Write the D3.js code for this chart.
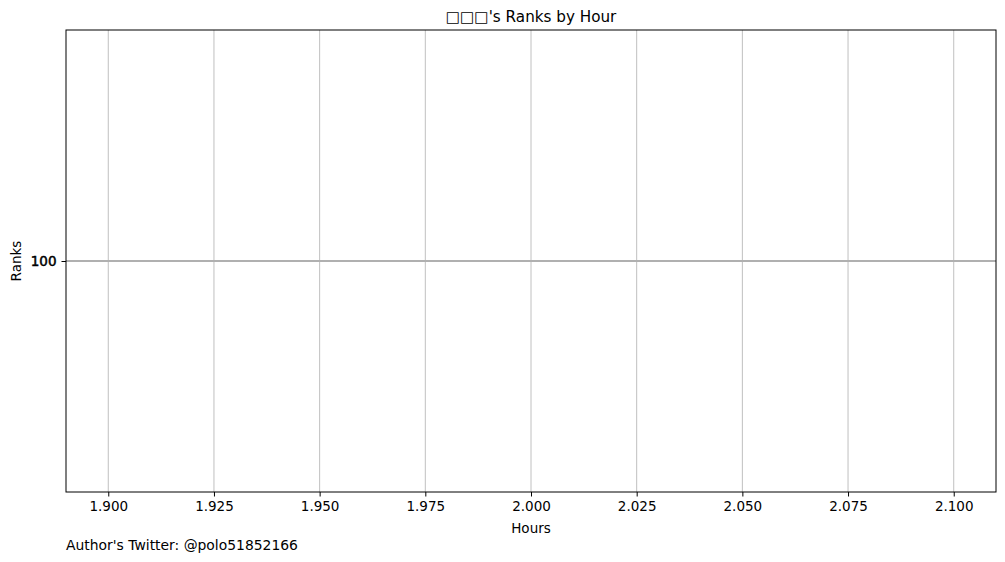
<!DOCTYPE html>
<html><head><meta charset="utf-8">
<script src="https://cdn.jsdelivr.net/npm/d3@7"></script>
<style>body{margin:0;background:#fff}text{font-family:"DejaVu Sans",sans-serif}</style>
</head><body>
<script>
// one observation: hour 2, rank 100
const hours = [2]
const ranks = [100]
const xTicks = [1.9, 1.925, 1.95, 1.975, 2.0, 2.025, 2.05, 2.075, 2.1]
const yTicks = [100]

const W = 1005, H = 562
const m = { l: 66, r: 9, t: 30, b: 70 }
const svg = d3.select('body').append('svg').attr('width', W).attr('height', H)

const x = d3.scaleLinear().domain([1.89, 2.11]).range([m.l, W - m.r])
const y = d3.scaleLinear().domain([95, 105]).range([m.t, H - m.b])

// grid
svg.append('g').selectAll('line').data(xTicks).join('line')
  .attr('x1', d => x(d)).attr('x2', d => x(d))
  .attr('y1', m.t).attr('y2', H - m.b)
  .attr('stroke', '#b0b0b0').attr('stroke-width', 0.8)
svg.append('g').selectAll('line').data(yTicks).join('line')
  .attr('x1', m.l).attr('x2', W - m.r)
  .attr('y1', d => y(d)).attr('y2', d => y(d))
  .attr('stroke', '#b0b0b0').attr('stroke-width', 1.8)

// data line (single point)
svg.append('path').datum(hours.map((h, i) => [h, ranks[i]]))
  .attr('fill', 'none').attr('stroke', '#1f77b4').attr('stroke-width', 1.5)
  .attr('d', d3.line().x(d => x(d[0])).y(d => y(d[1])))

svg.append('g').attr('transform', `translate(0,${H - m.b})`)
  .call(d3.axisBottom(x).tickValues(xTicks).tickFormat(d3.format('.3f')).tickSizeOuter(0).tickSize(4.5).tickPadding(5))
svg.append('g').attr('transform', `translate(${m.l},0)`)
  .call(d3.axisLeft(y).tickValues(yTicks).tickSizeOuter(0).tickSize(4.5).tickPadding(5))
svg.selectAll('.domain').remove()
svg.selectAll('.tick line').attr('stroke', '#000').attr('stroke-width', 1)
svg.selectAll('.tick text').attr('font-size', 13.5).attr('fill', '#000').style('font-family', 'DejaVu Sans')
// matplotlib drew the y label twice, so it looks heavier
svg.selectAll('g .tick text').filter(d => d === 100).attr('stroke', '#000').attr('stroke-width', 0.5)

svg.append('rect').attr('x', m.l).attr('y', m.t).attr('width', W - m.r - m.l).attr('height', H - m.b - m.t)
  .attr('fill', 'none').attr('stroke', '#000').attr('stroke-width', 1)

svg.append('text').attr('x', (m.l + W - m.r) / 2).attr('y', 22).attr('text-anchor', 'middle')
  .attr('font-size', 15.2).text('\u25A1\u25A1\u25A1\'s Ranks by Hour')
svg.append('text').attr('x', (m.l + W - m.r) / 2).attr('y', 533).attr('text-anchor', 'middle')
  .attr('font-size', 13.5).text('Hours')
svg.append('text').attr('transform', `translate(21,${y(100)}) rotate(-90)`).attr('text-anchor', 'middle')
  .attr('font-size', 13.5).text('Ranks')
svg.append('text').attr('x', 66).attr('y', 550).attr('font-size', 13.9).text("Author's Twitter: @polo51852166")
</script>
</body></html>
